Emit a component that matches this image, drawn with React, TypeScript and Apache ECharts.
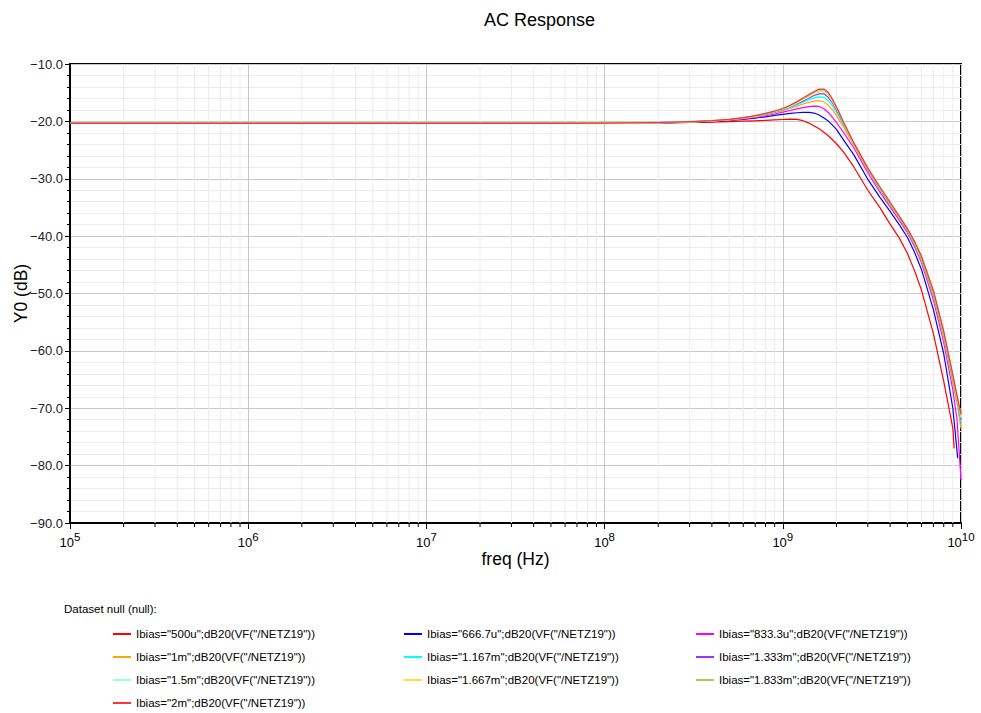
import React, { useEffect, useRef } from "react";
import * as echarts from "echarts";

const FREQ = [
  1e5, 1e6, 1e7, 5e7, 1e8, 2e8, 3e8, 4e8, 5e8, 6e8, 7e8, 8e8, 9e8, 1e9,
  1.1e9, 1.2e9, 1.3e9, 1.4e9, 1.5e9, 1.6e9, 1.7e9, 1.8e9, 1.9e9, 2e9,
  2.2e9, 2.5e9, 3e9, 3.5e9, 4e9, 4.5e9, 5e9, 5.5e9, 6e9, 7e9, 8e9, 9e9, 9.5e9, 1e10,
];

const IBIAS = ["500u", "666.7u", "833.3u", "1m", "1.167m", "1.333m", "1.5m", "1.667m", "1.833m", "2m"];

const COLORS = [
  "#ff0000", "#0000ff", "#ff00ff", "#ffa500", "#00ffff",
  "#9933ff", "#99ffdd", "#ffdd44", "#a6cc4c", "#ff3333",
];

const DB_500U = [-20.35, -20.35, -20.35, -20.34, -20.32, -20.28, -20.2, -20.12, -20.05, -19.97, -19.9, -19.83, -19.75, -19.67, -19.6, -19.65, -19.88, -20.3, -20.8, -21.3, -21.9, -22.5, -23.2, -23.9, -25.4, -27.9, -32.0, -35.0, -37.9, -40.3, -43.0, -46.1, -49.4, -57.0, -65.3, -73.5, null, null];
const DB_666U = [-20.35, -20.35, -20.35, -20.34, -20.32, -20.26, -20.16, -20.04, -19.85, -19.65, -19.45, -19.2, -18.95, -18.78, -18.62, -18.5, -18.44, -18.42, -18.55, -18.9, -19.4, -19.95, -20.65, -21.4, -23.3, -25.8, -30.1, -33.2, -35.7, -38.0, -40.2, -42.9, -45.8, -52.8, -60.5, -70.0, null, null];
const DB_833U = [-20.35, -20.35, -20.35, -20.34, -20.32, -20.25, -20.13, -19.98, -19.8, -19.56, -19.3, -19.02, -18.72, -18.4, -18.1, -17.83, -17.6, -17.43, -17.33, -17.4, -17.8, -18.45, -19.3, -20.2, -22.0, -24.6, -29.0, -32.3, -34.9, -37.2, -39.4, -41.9, -44.6, -51.1, -58.5, -66.8, -72.0, -82.5];
const DB_1M = [-20.35, -20.35, -20.35, -20.34, -20.32, -20.24, -20.11, -19.95, -19.75, -19.5, -19.2, -18.88, -18.52, -18.15, -17.75, -17.35, -16.98, -16.68, -16.47, -16.4, -16.6, -17.2, -18.0, -19.0, -21.1, -24.1, -28.6, -31.9, -34.6, -36.9, -39.2, -41.6, -44.3, -50.5, -57.8, -65.7, -69.2, -73.5];
const DB_1167M = [-20.35, -20.35, -20.35, -20.34, -20.32, -20.23, -20.1, -19.93, -19.72, -19.46, -19.14, -18.8, -18.42, -18.02, -17.58, -17.1, -16.65, -16.22, -15.9, -15.72, -15.8, -16.4, -17.3, -18.4, -20.7, -23.9, -28.45, -31.75, -34.4, -36.75, -39.0, -41.4, -44.0, -50.1, -57.3, -65.1, -68.6, -72.5];
const DB_1333M = [-20.35, -20.35, -20.35, -20.34, -20.32, -20.22, -20.09, -19.92, -19.7, -19.43, -19.1, -18.74, -18.35, -17.94, -17.46, -16.94, -16.42, -15.92, -15.5, -15.2, -15.2, -15.8, -16.8, -18.0, -20.5, -23.8, -28.35, -31.6, -34.3, -36.65, -38.9, -41.25, -43.8, -49.9, -57.0, -64.7, -68.3, -72.0];
const DB_1500M = [-20.35, -20.35, -20.35, -20.34, -20.32, -20.22, -20.08, -19.91, -19.69, -19.41, -19.07, -18.7, -18.3, -17.88, -17.38, -16.82, -16.26, -15.74, -15.24, -14.9, -14.85, -15.4, -16.5, -17.75, -20.4, -23.8, -28.25, -31.5, -34.2, -36.6, -38.8, -41.15, -43.7, -49.7, -56.85, -64.5, -68.1, -71.7];
const DB_1667M = [-20.35, -20.35, -20.35, -20.34, -20.32, -20.21, -20.08, -19.9, -19.68, -19.39, -19.05, -18.67, -18.26, -17.83, -17.3, -16.72, -16.13, -15.57, -15.03, -14.65, -14.6, -15.2, -16.35, -17.6, -20.35, -23.75, -28.2, -31.45, -34.15, -36.55, -38.75, -41.1, -43.6, -49.6, -56.75, -64.35, -68.0, -71.4];
const DB_1833M = [-20.35, -20.35, -20.35, -20.34, -20.32, -20.21, -20.07, -19.89, -19.67, -19.37, -19.03, -18.64, -18.23, -17.79, -17.24, -16.64, -16.02, -15.44, -14.9, -14.5, -14.45, -15.05, -16.25, -17.5, -20.3, -23.75, -28.17, -31.42, -34.12, -36.52, -38.72, -41.05, -43.55, -49.55, -56.68, -64.28, -67.9, -71.2];
const DB_2M = [-20.35, -20.35, -20.35, -20.34, -20.32, -20.2, -20.06, -19.88, -19.66, -19.36, -19.0, -18.61, -18.2, -17.75, -17.18, -16.56, -15.92, -15.32, -14.78, -14.38, -14.36, -14.95, -16.15, -17.45, -20.25, -23.7, -28.15, -31.4, -34.1, -36.5, -38.7, -41.0, -43.5, -49.5, -56.6, -64.2, -67.8, -71.0];

const SERIES_DB = [DB_500U, DB_666U, DB_833U, DB_1M, DB_1167M, DB_1333M, DB_1500M, DB_1667M, DB_1833M, DB_2M];

// Last read point of curves that end before 10 GHz
const END_POINTS: (number[] | null)[] = [
  [9.15e9, -77.0], [9.58e9, -78.7], null, null, null, null, null, null, null, null,
];

const X_MIN = 1e5;
const X_MAX = 1e10;
const Y_MIN = -90;
const Y_MAX = -10;
const Y_INTERVAL = 10;
const DECADES = [1e5, 1e6, 1e7, 1e8, 1e9];
const MINOR_MULT = [2, 3, 4, 5, 6, 7, 8, 9];

const FONT = "Liberation Sans, Arial, sans-serif";

export default function App() {
  const ref = useRef<HTMLDivElement>(null);

  useEffect(() => {
    document.body.style.margin = "0";
    if (!ref.current) return;
    const chart = echarts.init(ref.current, undefined, { renderer: "svg" });

    const names = IBIAS.map((b) => `Ibias="${b}";dB20(VF("/NETZ19"))`);

    const lineSeries = SERIES_DB.map((vals, si) => {
      const data: number[][] = [];
      FREQ.forEach((f, i) => {
        const v = vals[i];
        if (v !== null && v !== undefined) data.push([f, v]);
      });
      const end = END_POINTS[si];
      if (end) data.push(end);
      return {
        name: names[si],
        type: "line",
        data,
        showSymbol: false,
        symbol: "none",
        smooth: false,
        lineStyle: { color: COLORS[si], width: 1.2, join: "round" },
        itemStyle: { color: COLORS[si] },
        emphasis: { disabled: true },
        z: 3 + si * 0.01,
      };
    });

    const minorFreq: number[][] = [];
    DECADES.forEach((d) => MINOR_MULT.forEach((m) => minorFreq.push([m * d, Y_MIN])));

    const minorSeries = {
      type: "custom",
      silent: true,
      clip: false,
      z: 1,
      data: minorFreq,
      renderItem: (params: any, api: any) => {
        const f = api.value(0);
        const top = api.coord([f, Y_MAX]);
        const bot = api.coord([f, Y_MIN]);
        return {
          type: "group",
          children: [
            {
              type: "line",
              shape: { x1: top[0], y1: top[1], x2: bot[0], y2: bot[1] },
              style: { stroke: "#ececec", lineWidth: 1 },
            },
            {
              type: "line",
              shape: { x1: bot[0], y1: bot[1], x2: bot[0], y2: bot[1] + 4 },
              style: { stroke: "#000", lineWidth: 1 },
            },
          ],
        };
      },
    };

    const legendCommon = {
      orient: "vertical",
      icon: "rect",
      itemWidth: 18,
      itemHeight: 2,
      itemGap: 9,
      padding: 0,
      selectedMode: false,
      textStyle: { fontSize: 11.5, fontFamily: FONT, color: "#000", lineHeight: 14 },
    };

    const option: any = {
      animation: false,
      backgroundColor: "#fff",
      title: {
        text: "AC Response",
        left: 479,
        top: 6,
        textStyle: { fontSize: 18, fontWeight: "normal", fontFamily: FONT, color: "#000" },
      },
      grid: {
        left: 70,
        right: 20,
        top: 64,
        bottom: 190,
        show: true,
        borderColor: "#000",
        borderWidth: 2,
        backgroundColor: "#fff",
        containLabel: false,
        outerBoundsMode: "none",
      },
      legend: [
        { ...legendCommon, left: 113, top: 627, data: [names[0], names[3], names[6], names[9]] },
        { ...legendCommon, left: 404, top: 627, data: [names[1], names[4], names[7]] },
        { ...legendCommon, left: 696, top: 627, data: [names[2], names[5], names[8]] },
      ],
      graphic: [
        {
          type: "text",
          left: 64,
          top: 603,
          style: { text: "Dataset null (null):", fontSize: 11.5, fontFamily: FONT, fill: "#000" },
        },
      ],
      xAxis: {
        type: "log",
        logBase: 10,
        min: X_MIN,
        max: X_MAX,
        name: "freq (Hz)",
        nameLocation: "middle",
        nameGap: 27,
        nameMoveOverlap: false,
        nameTextStyle: { fontSize: 17.5, fontFamily: FONT, color: "#000" },
        axisLine: { show: true, lineStyle: { color: "#000", width: 2 } },
        axisTick: { show: true, length: 6, inside: false, lineStyle: { color: "#000" } },
        splitLine: { show: true, lineStyle: { color: "#c8c8c8", width: 1 } },
        axisLabel: {
          margin: 8,
          formatter: (v: number) => `{b|10}{s|${Math.round(Math.log10(v))}}`,
          rich: {
            b: { fontSize: 13, fontFamily: FONT, color: "#000" },
            s: { fontSize: 11.5, fontFamily: FONT, color: "#000", padding: [0, 0, 10, 0] },
          },
        },
      },
      yAxis: {
        type: "value",
        min: Y_MIN,
        max: Y_MAX,
        interval: Y_INTERVAL,
        name: "Y0 (dB)",
        nameLocation: "middle",
        nameGap: 40,
        nameMoveOverlap: false,
        nameTextStyle: { fontSize: 17.5, fontFamily: FONT, color: "#000" },
        axisLine: { show: true, lineStyle: { color: "#000", width: 2 } },
        axisTick: { show: true, length: 5, lineStyle: { color: "#000" } },
        minorTick: { show: true, splitNumber: 5, length: 3, lineStyle: { color: "#000" } },
        splitLine: { show: true, lineStyle: { color: "#c8c8c8", width: 1 } },
        minorSplitLine: { show: true, lineStyle: { color: "#ececec", width: 1 } },
        axisLabel: {
          margin: 7,
          fontSize: 13,
          fontFamily: FONT,
          color: "#222",
          formatter: (v: number) => v.toFixed(1).replace("-", "\u2212"),
        },
      },
      series: [minorSeries, ...lineSeries],
    };

    chart.setOption(option);
    return () => chart.dispose();
  }, []);

  return (
    <div
      ref={ref}
      style={{ position: "absolute", left: 0, top: 0, width: 981, height: 713 }}
    />
  );
}
